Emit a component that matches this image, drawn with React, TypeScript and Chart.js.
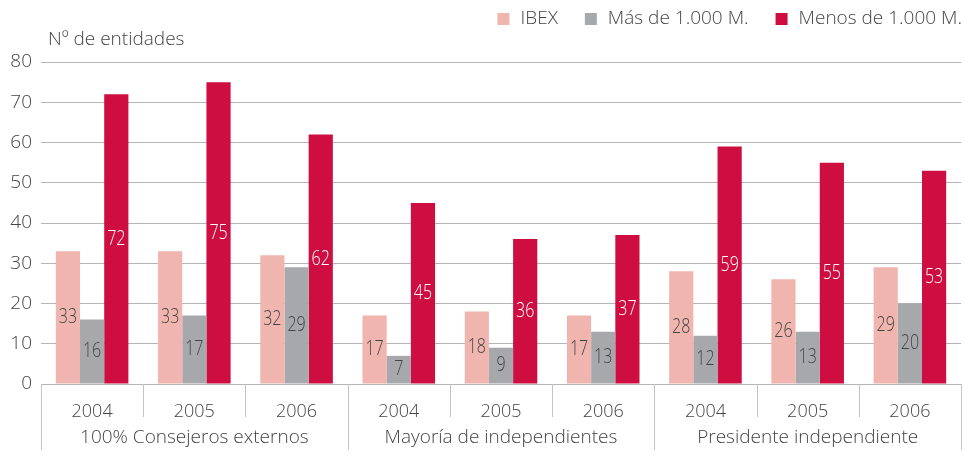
import React, { useEffect, useRef } from 'react';
import { Chart, registerables } from 'chart.js';

Chart.register(...registerables);

const years = ['2004', '2005', '2006', '2004', '2005', '2006', '2004', '2005', '2006'];
const groups = ['100% Consejeros externos', 'Mayoría de independientes', 'Presidente independiente'];
const seriesNames = ['IBEX', 'Más de 1.000 M.', 'Menos de 1.000 M.'];
const ibex = [33, 33, 32, 17, 18, 17, 28, 26, 29];
const masDeMil = [16, 17, 29, 7, 9, 13, 12, 13, 20];
const menosDeMil = [72, 75, 62, 45, 36, 37, 59, 55, 53];
const yMin = 0;
const yMax = 80;
const yStep = 10;
const yTitle = 'Nº de entidades';

const colors = ['#F0B5AE', '#A7A8AC', '#CE0E41'];
const labelColors = ['#444444', '#444444', '#ffffff'];
const FONT = "'Open Sans', sans-serif";
const TEXT = '#444444';

const decorPlugin = {
  id: 'decor',
  afterDraw(chart: any) {
    const ctx = chart.ctx;
    const area = chart.chartArea;
    const n = years.length;
    const w = (area.right - area.left) / n;
    ctx.save();
    // separators
    ctx.strokeStyle = '#c4c4c4';
    ctx.lineWidth = 1;
    for (let i = 0; i <= n; i++) {
      const x = Math.round(area.left + i * w) + 0.5;
      const end = i % 3 === 0 ? area.bottom + 66 : area.bottom + 33;
      ctx.beginPath();
      ctx.moveTo(x, area.bottom);
      ctx.lineTo(x, end);
      ctx.stroke();
    }
    // group labels
    ctx.fillStyle = TEXT;
    ctx.font = `300 19px ${FONT}`;
    ctx.textAlign = 'center';
    ctx.textBaseline = 'middle';
    groups.forEach((g, gi) => {
      const cx = area.left + (gi * 3 + 1.5) * w;
      ctx.fillText(g, cx, area.bottom + 54);
    });
    // axis title
    ctx.textAlign = 'left';
    ctx.fillText(yTitle, 48, 40);
    // legend
    const box = 12;
    const gapBox = 11;
    const gapItem = 27;
    let right = 962;
    const items: { x: number; i: number }[] = [];
    for (let i = seriesNames.length - 1; i >= 0; i--) {
      const tw = ctx.measureText(seriesNames[i]).width;
      const tx = right - tw;
      items.push({ x: tx, i });
      right = tx - gapBox - box - gapItem;
    }
    items.forEach(({ x, i }) => {
      ctx.fillStyle = colors[i];
      ctx.fillRect(x - gapBox - box, 13, box, box);
      ctx.fillStyle = TEXT;
      ctx.fillText(seriesNames[i], x, 19);
    });
    ctx.restore();
  },
  afterDatasetsDraw(chart: any) {
    const ctx = chart.ctx;
    const sx = 0.8;
    chart.data.datasets.forEach((ds: any, di: number) => {
      const meta = chart.getDatasetMeta(di);
      meta.data.forEach((bar: any, i: number) => {
        const p = bar.getProps(['x', 'y', 'base'], true);
        ctx.save();
        ctx.font = `300 20px ${FONT}`;
        ctx.textAlign = 'center';
        ctx.textBaseline = 'middle';
        ctx.fillStyle = labelColors[di];
        ctx.translate(p.x, (p.y + p.base) / 2);
        ctx.scale(sx, 1);
        ctx.fillText(String(ds.data[i]), 0, 0);
        ctx.restore();
      });
    });
  },
};

export default function App() {
  const ref = useRef<HTMLCanvasElement>(null);
  useEffect(() => {
    if (!ref.current) return;
    const series = [ibex, masDeMil, menosDeMil];
    const chart = new Chart(ref.current, {
      type: 'bar',
      data: {
        labels: years,
        datasets: series.map((d, i) => ({
          label: seriesNames[i],
          data: d,
          backgroundColor: colors[i],
          borderWidth: 0,
          categoryPercentage: 0.71,
          barPercentage: 1,
        })),
      },
      options: {
        animation: false,
        responsive: true,
        maintainAspectRatio: false,
        layout: { padding: { top: 62, right: 3, left: 0, bottom: 0 } },
        plugins: { legend: { display: false }, tooltip: { enabled: false } },
        scales: {
          x: {
            grid: { display: false },
            border: { display: false },
            ticks: {
              font: { family: FONT, size: 18, weight: '300' as any },
              color: TEXT,
              padding: 9,
              autoSkip: false,
              maxRotation: 0,
            },
            afterFit(s: any) {
              s.height = 89;
            },
          },
          y: {
            min: yMin,
            max: yMax,
            ticks: {
              stepSize: yStep,
              font: { family: FONT, size: 19, weight: '300' as any },
              color: TEXT,
              padding: 9,
            },
            grid: { color: '#b5b5b5', drawTicks: false },
            border: { display: false },
            afterFit(s: any) {
              s.width = 41;
            },
          },
        },
      },
      plugins: [decorPlugin],
    });
    return () => chart.destroy();
  }, []);
  return (
    <div style={{ position: 'fixed', left: 0, top: 0, width: 964, height: 473 }}>
      <canvas ref={ref} />
    </div>
  );
}
